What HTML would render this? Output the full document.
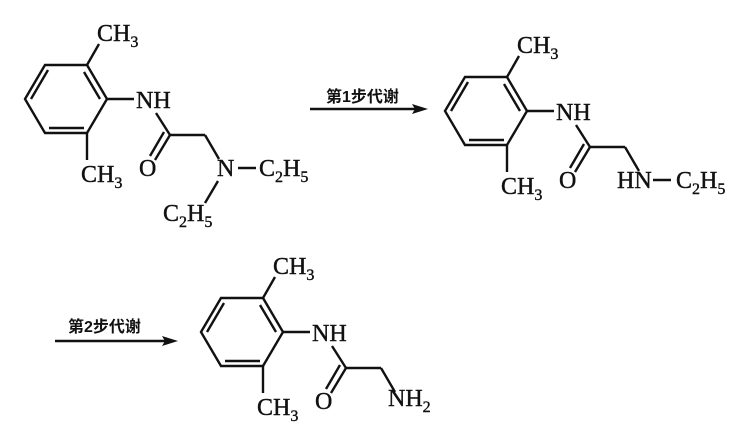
<!DOCTYPE html>
<html><head><meta charset="utf-8"><style>
html,body{margin:0;padding:0;background:#fff;}
svg{display:block;}
text{font-family:"Liberation Serif","Noto Serif CJK SC",serif;font-size:24px;fill:#111;stroke:#111;stroke-width:0.4;}
.cn{font-family:"Liberation Sans","Noto Sans CJK SC",sans-serif;font-size:16px;font-weight:bold;stroke:none;}
.s{font-size:16px;}
line,polyline{stroke:#111;stroke-width:2.4;fill:none;}
</style></head><body>
<svg width="738" height="439" viewBox="0 0 738 439" xmlns="http://www.w3.org/2000/svg">
<defs>
<g id="core">
<polygon points="45,65 87,65 107,99 87,133 45,133 25,99" style="stroke:#111;stroke-width:2.4;fill:none"/>
<line x1="31" y1="99" x2="48" y2="70"/>
<line x1="84" y1="72" x2="100" y2="99"/>
<line x1="49" y1="128" x2="84" y2="128"/>
<line x1="87" y1="65" x2="99" y2="44"/>
<line x1="107" y1="99" x2="134" y2="99"/>
<line x1="87" y1="133" x2="87" y2="160"/>
<line x1="156" y1="113" x2="170" y2="135"/>
<line x1="170" y1="135" x2="155" y2="160"/>
<line x1="164" y1="132" x2="150" y2="156"/>
<line x1="170" y1="135" x2="205" y2="135"/>
<line x1="205" y1="135" x2="219" y2="159"/>
<text x="97" y="41">CH<tspan class="s" dy="6">3</tspan></text>
<text x="136" y="108">NH</text>
<text x="81" y="182">CH<tspan class="s" dy="6">3</tspan></text>
<text x="139" y="176">O</text>
</g>
</defs>
<use href="#core" x="0" y="0"/>
<text x="217" y="176">N</text>
<line x1="238" y1="168" x2="256" y2="168"/>
<text x="259" y="176">C<tspan class="s" dy="6">2</tspan><tspan dy="-6">H</tspan><tspan class="s" dy="6">5</tspan></text>
<line x1="218" y1="181" x2="205" y2="203"/>
<text x="163" y="221">C<tspan class="s" dy="6">2</tspan><tspan dy="-6">H</tspan><tspan class="s" dy="6">5</tspan></text>
<line x1="310" y1="109" x2="418" y2="109"/>
<polygon points="428,109 412,104 415,109 412,114" fill="#111"/>
<text class="cn" x="326" y="102">第1步代谢</text>
<use href="#core" x="420" y="12"/>
<text x="617" y="188">HN</text>
<line x1="653" y1="180" x2="671" y2="180"/>
<text x="676" y="188">C<tspan class="s" dy="6">2</tspan><tspan dy="-6">H</tspan><tspan class="s" dy="6">5</tspan></text>
<line x1="55" y1="341" x2="168" y2="341"/>
<polygon points="178,341 162,336 165,341 162,346" fill="#111"/>
<text class="cn" x="68" y="332">第2步代谢</text>
<use href="#core" x="176" y="233"/>
<text x="388" y="406">NH<tspan class="s" dy="6">2</tspan></text>
</svg>
</body></html>
